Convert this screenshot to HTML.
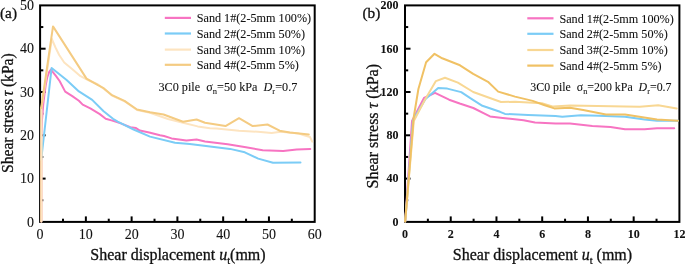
<!DOCTYPE html>
<html><head><meta charset="utf-8"><style>
html,body{margin:0;padding:0;background:#fff;width:685px;height:264px;overflow:hidden}
svg{display:block;will-change:transform}
text{font-family:"Liberation Serif",serif;fill:#111;white-space:pre;stroke:#111;stroke-width:0.08px}
.t{stroke-width:0.3px}
</style></head><body>
<svg xml:space="preserve" width="685" height="264" viewBox="0 0 685 264">
<rect width="685" height="264" fill="#fff"/>
<g stroke="#000" stroke-width="2" fill="none">
<line x1="85.87" y1="221.9" x2="85.87" y2="216.4"/>
<line x1="131.63" y1="221.9" x2="131.63" y2="216.4"/>
<line x1="177.40" y1="221.9" x2="177.40" y2="216.4"/>
<line x1="223.17" y1="221.9" x2="223.17" y2="216.4"/>
<line x1="268.93" y1="221.9" x2="268.93" y2="216.4"/>
<line x1="62.98" y1="221.9" x2="62.98" y2="218.70000000000002"/>
<line x1="108.75" y1="221.9" x2="108.75" y2="218.70000000000002"/>
<line x1="154.52" y1="221.9" x2="154.52" y2="218.70000000000002"/>
<line x1="200.28" y1="221.9" x2="200.28" y2="218.70000000000002"/>
<line x1="246.05" y1="221.9" x2="246.05" y2="218.70000000000002"/>
<line x1="291.82" y1="221.9" x2="291.82" y2="218.70000000000002"/>
<line x1="40.1" y1="178.60" x2="45.6" y2="178.60"/>
<line x1="40.1" y1="135.30" x2="45.6" y2="135.30"/>
<line x1="40.1" y1="92.00" x2="45.6" y2="92.00"/>
<line x1="40.1" y1="48.70" x2="45.6" y2="48.70"/>
<line x1="40.1" y1="200.25" x2="43.300000000000004" y2="200.25"/>
<line x1="40.1" y1="156.95" x2="43.300000000000004" y2="156.95"/>
<line x1="40.1" y1="113.65" x2="43.300000000000004" y2="113.65"/>
<line x1="40.1" y1="70.35" x2="43.300000000000004" y2="70.35"/>
<line x1="40.1" y1="27.05" x2="43.300000000000004" y2="27.05"/>
<rect x="40.1" y="5.4" width="274.60" height="216.50" fill="none"/>
<line x1="450.73" y1="221.9" x2="450.73" y2="216.4"/>
<line x1="496.47" y1="221.9" x2="496.47" y2="216.4"/>
<line x1="542.20" y1="221.9" x2="542.20" y2="216.4"/>
<line x1="587.93" y1="221.9" x2="587.93" y2="216.4"/>
<line x1="633.67" y1="221.9" x2="633.67" y2="216.4"/>
<line x1="427.87" y1="221.9" x2="427.87" y2="218.70000000000002"/>
<line x1="473.60" y1="221.9" x2="473.60" y2="218.70000000000002"/>
<line x1="519.33" y1="221.9" x2="519.33" y2="218.70000000000002"/>
<line x1="565.07" y1="221.9" x2="565.07" y2="218.70000000000002"/>
<line x1="610.80" y1="221.9" x2="610.80" y2="218.70000000000002"/>
<line x1="656.53" y1="221.9" x2="656.53" y2="218.70000000000002"/>
<line x1="405.0" y1="178.60" x2="410.5" y2="178.60"/>
<line x1="405.0" y1="135.30" x2="410.5" y2="135.30"/>
<line x1="405.0" y1="92.00" x2="410.5" y2="92.00"/>
<line x1="405.0" y1="48.70" x2="410.5" y2="48.70"/>
<line x1="405.0" y1="200.25" x2="408.2" y2="200.25"/>
<line x1="405.0" y1="156.95" x2="408.2" y2="156.95"/>
<line x1="405.0" y1="113.65" x2="408.2" y2="113.65"/>
<line x1="405.0" y1="70.35" x2="408.2" y2="70.35"/>
<line x1="405.0" y1="27.05" x2="408.2" y2="27.05"/>
<rect x="405.0" y="5.4" width="274.40" height="216.50" fill="none"/>
</g>
<g fill="none" stroke-width="2" stroke-linejoin="round" stroke-linecap="round">
<polyline points="41.3,221.5 41.3,140.0 42.0,120.0 43.2,105.0 44.4,95.0 45.7,85.0 47.2,77.5 49.0,72.3 50.9,69.6 55.9,75.9 59.6,81.0 65.2,91.6 72.3,96.1 78.9,100.8 82.7,104.6 90.3,108.4 99.8,114.1 105.7,118.7 112.3,120.6 120.8,123.4 130.3,127.2 136.0,128.1 139.8,130.6 149.2,132.5 160.0,135.2 164.0,136.0 171.6,138.4 186.4,140.5 196.6,139.5 205.0,141.4 227.7,144.3 245.9,147.3 262.7,150.2 283.2,150.9 296.7,149.4 310.3,149.1" stroke="#F774C2"/>
<polyline points="41.2,160.0 51.6,68.0 66.6,80.0 78.9,91.4 92.2,99.9 103.6,111.3 113.0,118.8 117.7,121.6 133.6,129.5 150.0,136.6 175.0,142.7 189.8,144.0 210.0,146.4 230.0,148.9 244.8,152.3 258.2,158.6 273.0,162.7 300.5,162.6" stroke="#7BCCF6"/>
<polyline points="41.2,221.5 41.2,108.0" stroke="#F4CB82"/>
<polyline points="41.5,221.5 41.5,108.0 51.8,38.8 55.5,47.5 59.2,55.0 64.2,62.5 71.8,68.8 80.5,76.2 88.0,80.0 98.0,84.5 104.0,89.0 112.0,95.6 124.5,101.3 137.0,110.0 150.0,112.7 168.0,119.0 184.0,123.0 197.7,126.4 210.0,128.2 216.4,128.4 239.0,130.7 258.0,131.8 271.6,133.0 280.7,131.8 298.9,133.6 304.0,135.2 310.0,137.0 312.2,141.6" stroke="#FDE4C0"/>
<polyline points="41.2,108.0 53.0,26.4 86.5,78.6 98.0,85.2 104.0,88.4 112.0,95.2 124.5,100.9 137.0,109.5 150.0,112.3 163.6,114.5 183.0,121.8 196.6,119.5 205.0,122.7 225.5,126.1 239.0,118.2 252.7,126.1 267.5,124.5 279.6,130.7 289.8,132.5 308.8,134.5" stroke="#F4CB82"/>
<polyline points="405.2,221.5 412.0,121.0 424.0,98.0 435.0,92.8 449.1,99.7 459.7,103.5 473.3,108.0 485.5,114.1 490.0,116.4 502.7,118.0 523.6,120.2 535.0,122.5 555.5,123.6 570.0,123.6 592.3,125.9 610.5,127.0 625.0,129.3 644.6,129.3 657.0,128.3 674.2,128.3" stroke="#F774C2"/>
<polyline points="405.2,221.5 413.0,120.0 425.5,99.0 438.2,87.9 447.3,88.6 461.2,92.1 470.3,98.2 482.4,105.8 500.0,111.8 505.0,113.9 528.2,115.0 555.5,116.1 562.3,116.8 580.9,115.2 599.0,115.7 625.0,116.8 644.6,119.5 657.0,120.7 678.0,120.7" stroke="#7BCCF6"/>
<polyline points="405.2,221.5 413.8,121.0 424.5,100.5 435.9,81.1 445.0,77.7 457.9,82.6 473.2,92.0 501.0,102.0 515.0,101.8 541.8,103.2 553.2,106.6 570.0,105.5 625.0,106.6 639.7,106.7 658.2,105.2 676.7,108.4" stroke="#F8D793"/>
<polyline points="405.2,221.5 413.6,118.0 418.4,89.0 426.1,62.3 434.5,53.8 442.2,58.3 460.0,65.3 473.2,73.9 488.0,81.8 498.2,91.6 515.0,96.6 532.7,100.9 544.0,105.0 554.3,108.4 570.0,107.7 583.2,110.0 605.9,114.5 625.0,114.5 657.0,119.5 677.9,120.7" stroke="#F0C164"/>
</g>
<g font-size="14" text-anchor="middle">
<text x="40.10" y="239">0</text>
<text x="85.87" y="239">10</text>
<text x="131.63" y="239">20</text>
<text x="177.40" y="239">30</text>
<text x="223.17" y="239">40</text>
<text x="268.93" y="239">50</text>
<text x="314.70" y="239">60</text>
</g>
<g font-size="14">
<text x="34" y="226.50" text-anchor="end">0</text>
<text x="34" y="183.20" text-anchor="end">10</text>
<text x="34" y="139.90" text-anchor="end">20</text>
<text x="34" y="96.60" text-anchor="end">30</text>
<text x="34" y="53.30" text-anchor="end">40</text>
<text x="34" y="10.00" text-anchor="end">50</text>
</g>
<g font-size="12" font-weight="bold" text-anchor="middle">
<text x="405.00" y="237.5">0</text>
<text x="450.73" y="237.5">2</text>
<text x="496.47" y="237.5">4</text>
<text x="542.20" y="237.5">6</text>
<text x="587.93" y="237.5">8</text>
<text x="633.67" y="237.5">10</text>
<text x="679.40" y="237.5">12</text>
</g>
<g font-size="12" font-weight="bold">
<text x="398.6" y="225.70" text-anchor="end">0</text>
<text x="398.6" y="182.40" text-anchor="end">40</text>
<text x="398.6" y="139.10" text-anchor="end">80</text>
<text x="398.6" y="95.80" text-anchor="end">120</text>
<text x="398.6" y="52.50" text-anchor="end">160</text>
<text x="398.6" y="9.20" text-anchor="end">200</text>
</g>
<line x1="164.8" y1="17.9" x2="191" y2="17.9" stroke="#F774C2" stroke-width="2.2"/>
<text x="196.7" y="22.1" font-size="12.2">Sand 1#(2-5mm 100%)</text>
<line x1="164.8" y1="33.5" x2="191" y2="33.5" stroke="#7BCCF6" stroke-width="2.2"/>
<text x="196.7" y="37.7" font-size="12.2">Sand 2#(2-5mm 50%)</text>
<line x1="164.8" y1="49.6" x2="191" y2="49.6" stroke="#FDE4C0" stroke-width="2.2"/>
<text x="196.7" y="53.8" font-size="12.2">Sand 3#(2-5mm 10%)</text>
<line x1="164.8" y1="64.8" x2="191" y2="64.8" stroke="#F4CB82" stroke-width="2.2"/>
<text x="196.7" y="69.0" font-size="12.2">Sand 4#(2-5mm 5%)</text>
<line x1="527.3" y1="18.3" x2="553.5" y2="18.3" stroke="#F774C2" stroke-width="2.2"/>
<text x="559.4" y="22.5" font-size="12.2">Sand 1#(2-5mm 100%)</text>
<line x1="527.3" y1="33.8" x2="553.5" y2="33.8" stroke="#7BCCF6" stroke-width="2.2"/>
<text x="559.4" y="38.0" font-size="12.2">Sand 2#(2-5mm 50%)</text>
<line x1="527.3" y1="50.0" x2="553.5" y2="50.0" stroke="#F8D793" stroke-width="2.2"/>
<text x="559.4" y="54.2" font-size="12.2">Sand 3#(2-5mm 10%)</text>
<line x1="527.3" y1="65.6" x2="553.5" y2="65.6" stroke="#F0C164" stroke-width="2.2"/>
<text x="559.4" y="69.8" font-size="12.2">Sand 4#(2-5mm 5%)</text>
<text x="158.5" y="90.8" font-size="12.2">3C0 pile  σ<tspan font-size="8.5" dy="3">n</tspan><tspan dy="-3">=50 kPa  </tspan><tspan font-style="italic">D</tspan><tspan font-size="8.5" dy="3">r</tspan><tspan dy="-3">=0.7</tspan></text>
<text transform="translate(530.3,91.2) scale(0.975,1)" font-size="12.2">3C0 pile  σ<tspan font-size="8.5" dy="3">n</tspan><tspan dy="-3">=200 kPa  </tspan><tspan font-style="italic">D</tspan><tspan font-size="8.5" dy="3">r</tspan><tspan dy="-3">=0.7</tspan></text>
<text class="t" x="0" y="18.2" font-size="15.3">(a)</text>
<text class="t" x="362.5" y="18.2" font-size="15.3">(b)</text>
<text class="t" x="90.3" y="259.7" font-size="16">Shear displacement <tspan font-style="italic">u</tspan><tspan font-size="10.5" dy="4">t</tspan><tspan dy="-4">(mm)</tspan></text>
<text class="t" x="452.8" y="259.7" font-size="16">Shear displacement <tspan font-style="italic">u</tspan><tspan font-size="10.5" dy="4">t</tspan><tspan dy="-4"> (mm)</tspan></text>
<text class="t" transform="translate(13.3,173.0) rotate(-90) scale(0.975,1)" font-size="16">Shear stress<tspan font-style="italic" dx="2.8">τ</tspan><tspan dx="-0.4"> (kPa)</tspan></text>
<text class="t" transform="translate(378.2,188.4) rotate(-90)" font-size="16">Shear stress <tspan font-style="italic">τ</tspan> (kPa)</text>
</svg>
</body></html>
